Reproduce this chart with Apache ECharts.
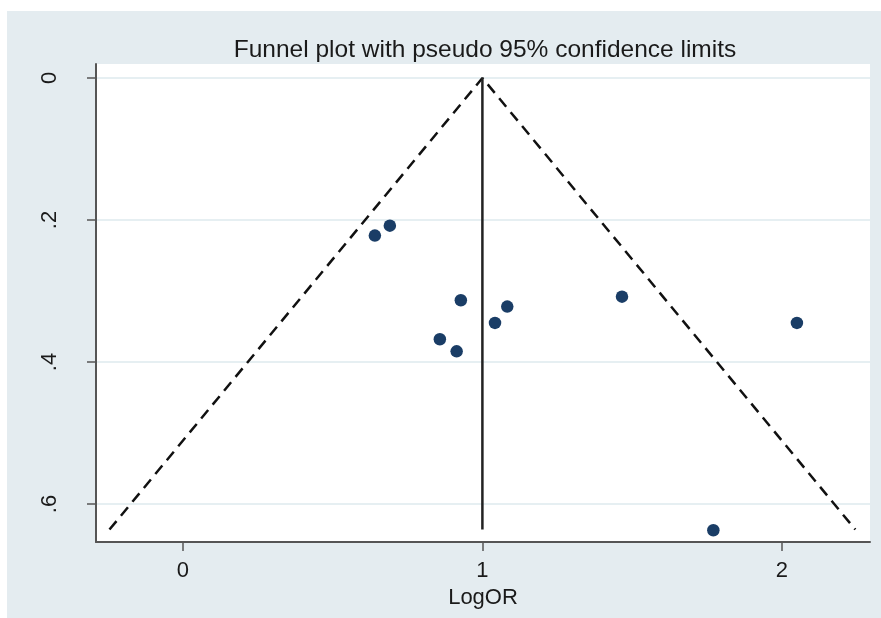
<!DOCTYPE html>
<html>
<head>
<meta charset="utf-8">
<script src="https://cdn.jsdelivr.net/npm/echarts@6/dist/echarts.min.js"></script>
<style>
  html, body { margin: 0; padding: 0; background: #fff; }
  #chart { width: 881px; height: 618px; }
</style>
</head>
<body>
<div id="chart"></div>
<script>
// study estimates: log odds ratio vs standard error
var logOR = [0.641, 0.691, 0.928, 1.083, 1.042, 0.858, 0.914, 1.466, 2.050, 1.771];
var seLogOR = [0.222, 0.208, 0.313, 0.322, 0.345, 0.368, 0.385, 0.308, 0.345, 0.637];

// pooled estimate line and pseudo 95% limits
var pooledLine = [[1, 0], [1, 0.636]];
var funnelLimits = [[-0.245, 0.636], [1, 0], [2.245, 0.636]];

var xTicks = [0, 1, 2];
var yTicks = [0, 0.2, 0.4, 0.6];

var points = logOR.map(function (v, i) { return [v, seLogOR[i]]; });

var chart = echarts.init(document.getElementById('chart'));

var option = {
  backgroundColor: '#fff',
  animation: false,
  graphic: [
    {
      type: 'rect',
      z: -10,
      shape: { x: 7, y: 11, width: 874, height: 607 },
      style: { fill: '#e4ecf0' }
    }
  ],
  title: {
    text: 'Funnel plot with pseudo 95% confidence limits',
    left: 480,
    textAlign: 'center',
    top: 33,
    textStyle: {
      fontFamily: 'Liberation Sans, Arial, sans-serif',
      fontSize: 24.5,
      fontWeight: 'normal',
      color: '#1a1a1a'
    }
  },
  grid: {
    left: 96,
    right: 11,
    top: 64,
    bottom: 76,
    show: true,
    backgroundColor: '#fff',
    borderWidth: 0
  },
  xAxis: {
    type: 'value',
    min: -0.29,
    max: 2.294,
    name: 'LogOR',
    nameLocation: 'middle',
    nameGap: 38,
    nameTextStyle: {
      fontFamily: 'Liberation Sans, Arial, sans-serif',
      fontSize: 22,
      color: '#1a1a1a'
    },
    axisLine: { show: true, onZero: false, lineStyle: { color: '#555', width: 2 } },
    axisTick: { show: true, length: 9, customValues: xTicks, lineStyle: { color: '#555', width: 1.5 } },
    axisLabel: {
      customValues: xTicks,
      margin: 18,
      fontFamily: 'Liberation Sans, Arial, sans-serif',
      fontSize: 22,
      color: '#1a1a1a'
    },
    splitLine: { show: false }
  },
  yAxis: {
    type: 'value',
    inverse: true,
    min: -0.0197,
    max: 0.6535,
    axisLine: { show: true, onZero: false, lineStyle: { color: '#555', width: 2 } },
    axisTick: { show: true, length: 9, customValues: yTicks, lineStyle: { color: '#555', width: 1.5 } },
    axisLabel: {
      customValues: yTicks,
      rotate: 90,
      margin: 35,
      fontFamily: 'Liberation Sans, Arial, sans-serif',
      fontSize: 22,
      color: '#1a1a1a',
      formatter: function (v) {
        return v === 0 ? '0' : String(v).replace(/^0/, '');
      }
    },
    splitLine: { show: true, lineStyle: { color: '#e6eff2', width: 2 } }
  },
  series: [
    {
      type: 'line',
      data: funnelLimits,
      symbol: 'none',
      lineStyle: { color: '#111', width: 2.5, type: [11, 7] },
      z: 2
    },
    {
      type: 'line',
      data: pooledLine,
      symbol: 'none',
      lineStyle: { color: '#222', width: 2.5 },
      z: 2
    },
    {
      type: 'scatter',
      data: points,
      symbolSize: 12.5,
      itemStyle: { color: '#1a3d66', opacity: 1 },
      z: 3
    }
  ]
};

chart.setOption(option);
</script>
</body>
</html>
